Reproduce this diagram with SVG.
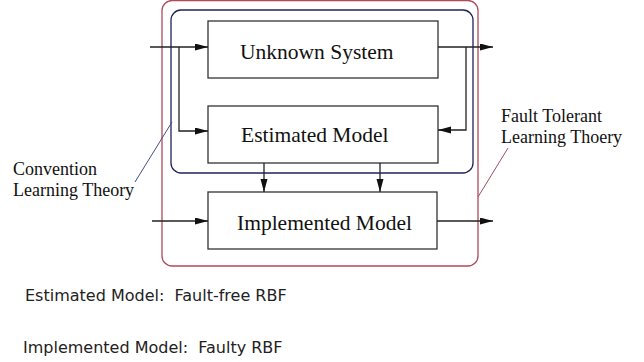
<svg xmlns="http://www.w3.org/2000/svg" width="644" height="362" viewBox="0 0 644 362">
<defs>
<style>
.box{fill:#fff;stroke:#333;stroke-width:1.3}
.lbl{font-family:"Liberation Serif","Times New Roman",serif;font-size:21.5px;fill:#111}
.side{font-family:"Liberation Serif","Times New Roman",serif;font-size:18px;fill:#111}
.note{font-family:"DejaVu Sans",Verdana,sans-serif;font-size:16px;fill:#222;white-space:pre}
.con{fill:none;stroke:#222;stroke-width:1.3}
</style>
<marker id="ah" markerUnits="userSpaceOnUse" markerWidth="14" markerHeight="8" refX="13" refY="3.5" orient="auto">
<path d="M0,0 L13,3.5 L0,7 z" fill="#111"/>
</marker>
</defs>
<rect width="644" height="362" fill="#fff"/>
<g id="fault-tolerant-boundary">
<rect x="162" y="0.5" width="316" height="265.5" rx="10" fill="none" stroke="#b04a5a" stroke-width="1.3"/>
</g>
<g id="convention-boundary">
<rect x="171" y="10" width="302" height="163" rx="10" fill="none" stroke="#22225a" stroke-width="1.3"/>
</g>
<g id="unknown-system">
<rect class="box" x="208" y="21" width="230" height="57"/>
<text class="lbl" x="240" y="59">Unknown System</text>
</g>
<g id="estimated-model">
<rect class="box" x="208" y="106" width="230" height="57"/>
<text class="lbl" x="241" y="142">Estimated Model</text>
</g>
<g id="implemented-model">
<rect class="box" x="208" y="192" width="229" height="57"/>
<text class="lbl" x="237" y="230">Implemented Model</text>
</g>
<g id="connectors">
<line class="con" x1="150" y1="47" x2="208" y2="47" marker-end="url(#ah)"/>
<path class="con" d="M179,47 V131 H208" marker-end="url(#ah)"/>
<line class="con" x1="438" y1="47" x2="493" y2="47" marker-end="url(#ah)"/>
<path class="con" d="M466,47 V130 H438" marker-end="url(#ah)"/>
<line class="con" x1="264" y1="163" x2="264" y2="192" marker-end="url(#ah)"/>
<line class="con" x1="380" y1="163" x2="380" y2="192" marker-end="url(#ah)"/>
<line class="con" x1="152" y1="221" x2="208" y2="221" marker-end="url(#ah)"/>
<line class="con" x1="437" y1="221" x2="493" y2="221" marker-end="url(#ah)"/>
<line x1="135" y1="182" x2="172" y2="122" stroke="#4a4a8a" stroke-width="1"/>
<line x1="478" y1="197" x2="508" y2="148" stroke="#a05060" stroke-width="1"/>
</g>
<g id="convention-label">
<text class="side" x="13" y="175">Convention</text>
<text class="side" x="13" y="196">Learning Theory</text>
</g>
<g id="fault-tolerant-label">
<text class="side" x="501" y="122">Fault Tolerant</text>
<text class="side" x="501" y="143">Learning Thoery</text>
</g>
<g id="notes">
<text class="note" x="25" y="301">Estimated Model:  Fault-free RBF</text>
<text class="note" x="23" y="353">Implemented Model:  Faulty RBF</text>
</g>
</svg>
